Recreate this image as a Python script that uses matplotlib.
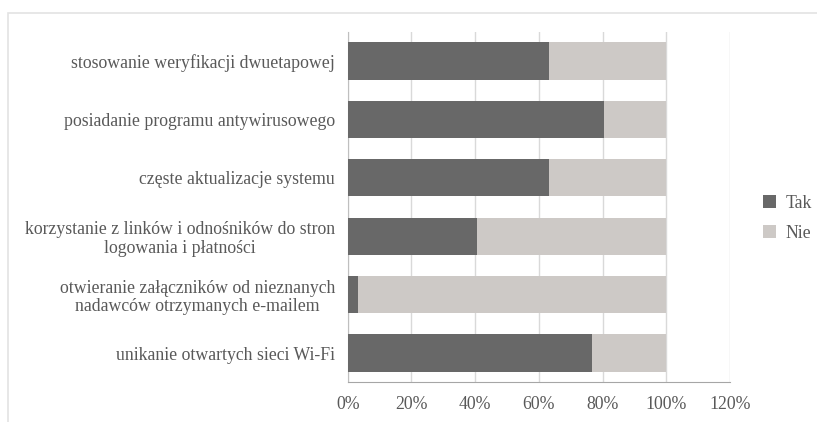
import matplotlib.pyplot as plt
from matplotlib.patches import Rectangle

categories = [
    "stosowanie weryfikacji dwuetapowej",
    "posiadanie programu antywirusowego",
    "częste aktualizacje systemu",
    "korzystanie z linków i odnośników do stron\nlogowania i płatności",
    "otwieranie załączników od nieznanych\nnadawców otrzymanych e-mailem",
    "unikanie otwartych sieci Wi-Fi",
]
tak = [63.2, 80.5, 63.2, 40.5, 3.3, 76.8]
nie = [100 - v for v in tak]
xticks = [0, 20, 40, 60, 80, 100, 120]

plt.rcParams['font.family'] = ['Liberation Serif', 'DejaVu Serif']
text_col = '#595959'

fig = plt.figure(figsize=(8.17, 4.22), dpi=100)
fig.patches.append(Rectangle((8 / 817, -0.1), 1.2, 1 - 13 / 422 + 0.1,
                             transform=fig.transFigure, fill=False,
                             edgecolor='#e3e3e3', linewidth=1.2))

ax = fig.add_axes([347.7 / 817, 1 - 382.3 / 422, (730 - 347.7) / 817, (382.3 - 31.7) / 422])

ypos = list(range(len(categories)))
ax.barh(ypos, tak, height=0.64, color='#686868', label='Tak', zorder=3)
ax.barh(ypos, nie, left=tak, height=0.64, color='#cdc9c6', label='Nie', zorder=3)

ax.set_ylim(len(categories) - 0.5, -0.5)
ax.set_xlim(0, 120)
ax.set_xticks(xticks)
ax.set_xticklabels([f"{v}%" for v in xticks])
ax.set_yticks(ypos)
ax.set_yticklabels(categories, multialignment='center', linespacing=1.1)

ax.grid(axis='x', color='#d9d9d9', linewidth=1, zorder=0)
for s in ['top', 'right']:
    ax.spines[s].set_visible(False)
ax.spines['left'].set_color('#bfbfbf')
ax.spines['bottom'].set_color('#a6a6a6')
ax.tick_params(axis='y', length=0, pad=9, labelsize=12.8, labelcolor=text_col)
ax.tick_params(axis='x', length=0, pad=10, labelsize=12.8, labelcolor=text_col)

leg = fig.legend(loc='center left', bbox_to_anchor=(747 / 817, 1 - 218.5 / 422),
                 frameon=False, fontsize=12.8, handlelength=0.75, handleheight=0.75,
                 handletextpad=0.5, labelspacing=0.72)
for t in leg.get_texts():
    t.set_color(text_col)

fig.savefig('out.png', dpi=100, facecolor='white')
